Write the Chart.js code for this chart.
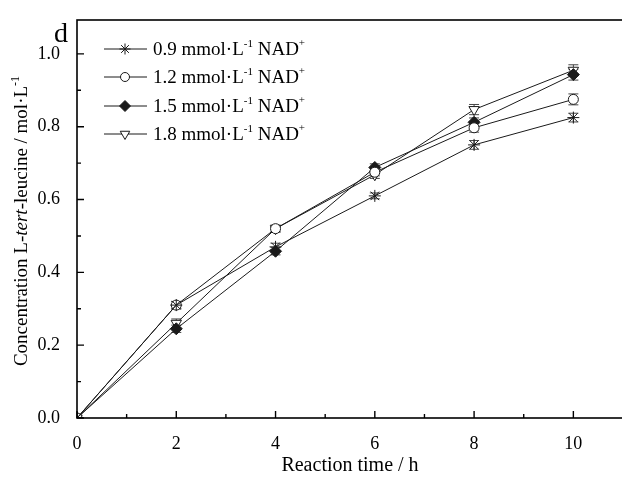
<!DOCTYPE html>
<html>
<head>
<meta charset="utf-8">
<script src="https://cdn.jsdelivr.net/npm/chart.js@4/dist/chart.umd.min.js"></script>
<style>
  html, body { margin: 0; padding: 0; background: #fff; overflow: hidden; }
  #wrap { width: 630px; height: 478px; }
</style>
</head>
<body>
<div id="wrap"><canvas id="myChart" width="630" height="478"></canvas></div>
<script>
// reaction time (h)
const times = [0, 2, 4, 6, 8, 10];

// L-tert-leucine concentration (mol/L) per NAD+ level
const nad09 = [0, 0.31, 0.47, 0.61, 0.75, 0.825];
const nad12 = [0, 0.31, 0.52, 0.675, 0.797, 0.875];
const nad15 = [0, 0.245, 0.458, 0.688, 0.812, 0.943];
const nad18 = [0, 0.26, 0.52, 0.668, 0.847, 0.955];

// error bar half-widths
const err09 = [0, 0.01, 0.01, 0.008, 0.012, 0.012];
const err12 = [0, 0.01, 0.008, 0.01, 0.012, 0.015];
const err15 = [0, 0.01, 0.01, 0.01, 0.012, 0.015];
const err18 = [0, 0.012, 0.01, 0.01, 0.014, 0.015];

const labels = ['0.9', '1.2', '1.5', '1.8'];
const xTicks = [0, 2, 4, 6, 8, 10];
const yTicks = [0, 0.2, 0.4, 0.6, 0.8, 1.0];

const SERIF = '"Liberation Serif", "DejaVu Serif", serif';
const INK = '#1a1a1a';

const styles = [
    { pointStyle: 'star', rotation: 0, fill: INK, radius: 6 },
    { pointStyle: 'circle', rotation: 0, fill: '#fff', radius: 5 },
    { pointStyle: 'rectRot', rotation: 0, fill: INK, radius: 6 },
    { pointStyle: 'triangle', rotation: 180, fill: '#fff', radius: 6 }
];
const values = [nad09, nad12, nad15, nad18];
const errors = [err09, err12, err15, err18];

const datasets = values.map((vals, i) => ({
    label: labels[i] + ' mmol·L-1 NAD+',
    data: times.map((t, j) => ({ x: t, y: vals[j] })),
    borderColor: INK,
    borderWidth: 1,
    pointStyle: styles[i].pointStyle,
    pointRotation: styles[i].rotation,
    pointRadius: styles[i].radius,
    pointBackgroundColor: styles[i].fill,
    pointBorderColor: INK,
    pointBorderWidth: 1,
    errors: errors[i],
    tension: 0
}));

// error bars drawn before the markers
const errorBars = {
    id: 'errorBars',
    beforeDatasetsDraw(chart) {
        const ctx = chart.ctx;
        const xs = chart.scales.x, ys = chart.scales.y;
        ctx.save();
        ctx.strokeStyle = '#444';
        ctx.lineWidth = 1;
        chart.data.datasets.forEach(ds => {
            ds.data.forEach((p, j) => {
                const e = ds.errors[j];
                if (!e) return;
                const px = xs.getPixelForValue(p.x);
                const top = ys.getPixelForValue(p.y + e);
                const bot = ys.getPixelForValue(p.y - e);
                ctx.beginPath();
                ctx.moveTo(px, top); ctx.lineTo(px, bot);
                ctx.moveTo(px - 5, top); ctx.lineTo(px + 5, top);
                ctx.moveTo(px - 5, bot); ctx.lineTo(px + 5, bot);
                ctx.stroke();
            });
        });
        ctx.restore();
    }
};

// frame, inward ticks, panel letter, y title and legend
const decorations = {
    id: 'decorations',
    afterDraw(chart) {
        const ctx = chart.ctx;
        const a = chart.chartArea;
        const xs = chart.scales.x, ys = chart.scales.y;
        ctx.save();
        ctx.strokeStyle = '#000';
        ctx.lineWidth = 1.6;
        ctx.strokeRect(a.left, a.top, a.right - a.left, a.bottom - a.top);

        ctx.lineWidth = 1.4;
        ctx.beginPath();
        for (let v = 0; v <= 11; v++) {
            const px = xs.getPixelForValue(v);
            const len = v % 2 === 0 ? 7 : 4;
            ctx.moveTo(px, a.bottom); ctx.lineTo(px, a.bottom - len);
        }
        for (let k = 0; k <= 10; k++) {
            const py = ys.getPixelForValue(k / 10);
            const len = k % 2 === 0 ? 7 : 4;
            ctx.moveTo(a.left, py); ctx.lineTo(a.left + len, py);
        }
        ctx.stroke();

        ctx.fillStyle = '#000';
        ctx.font = '28px ' + SERIF;
        ctx.textBaseline = 'alphabetic';
        ctx.fillText('d', 54, 42);

        // y axis title with italic and superscript parts
        const parts = [
            { t: 'Concentration L-', f: '19px ' + SERIF, dy: 0 },
            { t: 'tert', f: 'italic 19px ' + SERIF, dy: 0 },
            { t: '-leucine / mol·L', f: '19px ' + SERIF, dy: 0 },
            { t: '-1', f: '12px ' + SERIF, dy: -8 }
        ];
        let total = 0;
        parts.forEach(p => { ctx.font = p.f; p.w = ctx.measureText(p.t).width; total += p.w; });
        ctx.translate(27, 221);
        ctx.rotate(-Math.PI / 2);
        let x0 = -total / 2;
        parts.forEach(p => { ctx.font = p.f; ctx.fillText(p.t, x0, p.dy); x0 += p.w; });
        ctx.setTransform(1, 0, 0, 1, 0, 0);

        // legend
        const rows = [49, 77, 106, 134];
        chart.data.datasets.forEach((ds, i) => {
            const y = rows[i];
            ctx.strokeStyle = INK;
            ctx.lineWidth = 1;
            ctx.beginPath();
            ctx.moveTo(104, y); ctx.lineTo(147, y);
            ctx.stroke();
            ctx.fillStyle = styles[i].fill;
            Chart.helpers.drawPoint(ctx, {
                pointStyle: styles[i].pointStyle,
                rotation: styles[i].rotation,
                radius: styles[i].radius - 0.5,
                borderWidth: 1
            }, 125, y);
            ctx.fillStyle = '#000';
            let tx = 153;
            const bits = [
                { t: labels[i] + ' mmol·L', f: '19px ' + SERIF, dy: 0 },
                { t: '-1', f: '11px ' + SERIF, dy: -8 },
                { t: ' NAD', f: '19px ' + SERIF, dy: 0 },
                { t: '+', f: '11px ' + SERIF, dy: -9 }
            ];
            bits.forEach(b => {
                ctx.font = b.f;
                ctx.fillText(b.t, tx, y + 6 + b.dy);
                tx += ctx.measureText(b.t).width;
            });
        });
        ctx.restore();
    }
};

const ctx = document.getElementById('myChart').getContext('2d');

new Chart(ctx, {
    type: 'line',
    data: { datasets: datasets },
    options: {
        responsive: false,
        animation: false,
        layout: { padding: { top: 20, right: 3, left: 0, bottom: 0 } },
        plugins: { legend: { display: false }, tooltip: { enabled: false } },
        scales: {
            x: {
                type: 'linear',
                min: 0,
                max: 11,
                afterBuildTicks: s => { s.ticks = xTicks.map(v => ({ value: v })); },
                afterFit: s => { s.height = 60; s.paddingLeft = 0; s.paddingRight = 0; },
                grid: { display: false, drawTicks: false },
                border: { display: false },
                ticks: {
                    color: '#000',
                    padding: 15,
                    font: { family: SERIF, size: 18 },
                    maxRotation: 0
                },
                title: {
                    display: true,
                    text: 'Reaction time / h',
                    color: '#000',
                    font: { family: SERIF, size: 20 },
                    padding: { top: 0, bottom: 0 }
                }
            },
            y: {
                min: 0,
                max: 1.093,
                afterBuildTicks: s => { s.ticks = yTicks.map(v => ({ value: v })); },
                // fixed width; drop the label padding so the plot top follows layout.padding
                afterFit: s => { s.width = 77; s.paddingTop = 0; s.paddingBottom = 0; },
                grid: { display: false, drawTicks: false },
                border: { display: false },
                ticks: {
                    color: '#000',
                    padding: 17,
                    font: { family: SERIF, size: 18 },
                    callback: v => v.toFixed(1)
                }
            }
        }
    },
    plugins: [errorBars, decorations]
});
</script>
</body>
</html>
